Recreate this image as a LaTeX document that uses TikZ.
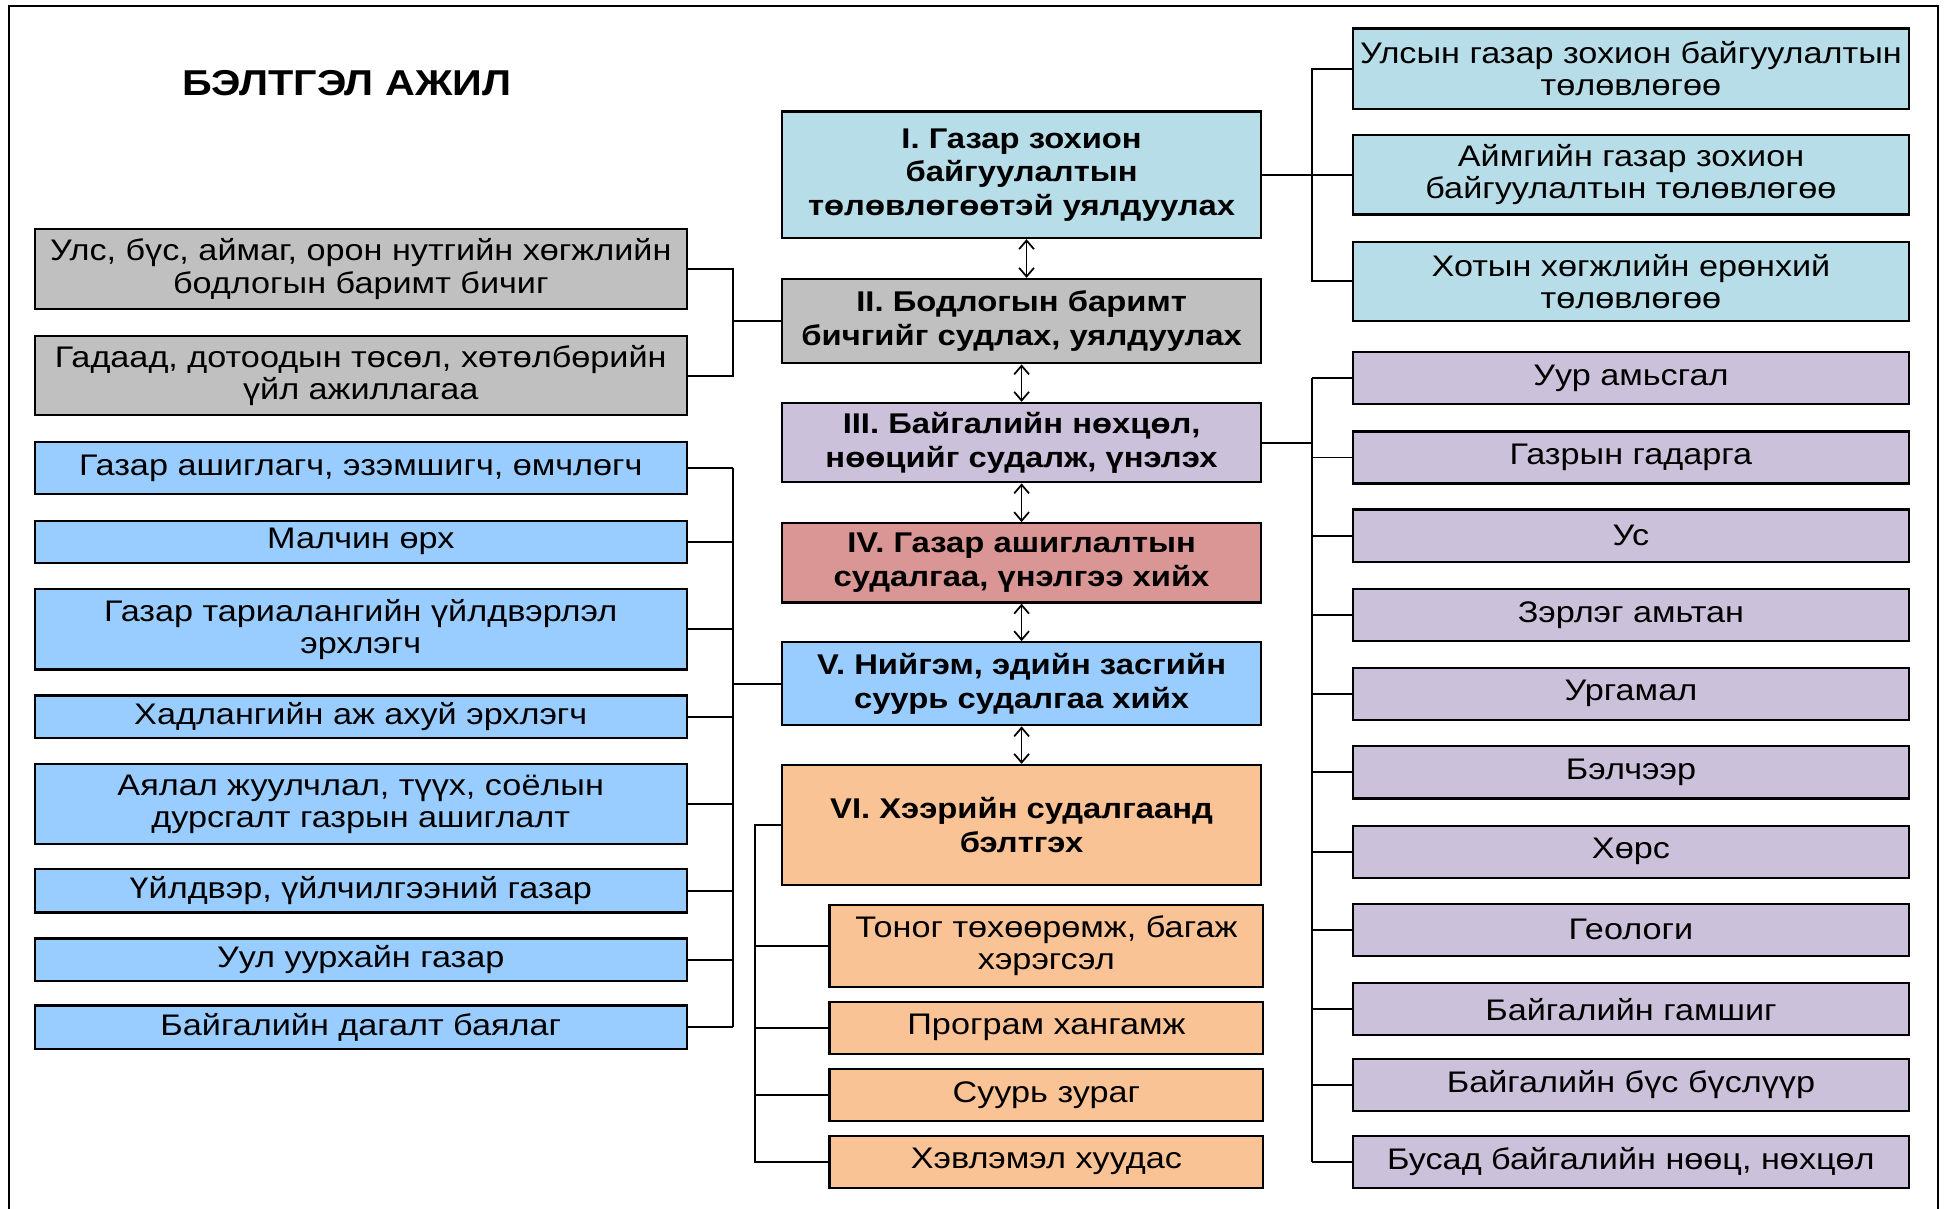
\documentclass[tikz,border=0pt]{standalone}
\usepackage{fontspec}
\setmainfont[FakeStretch=1.15]{Liberation Sans}
\usetikzlibrary{arrows.meta}
\definecolor{cLB}{HTML}{B7DEE8}
\definecolor{cGR}{HTML}{C0C0C0}
\definecolor{cLV}{HTML}{CCC1DA}
\definecolor{cRS}{HTML}{D99694}
\definecolor{cBL}{HTML}{99CCFF}
\definecolor{cPC}{HTML}{FAC396}
\tikzset{
  base/.style={draw=black, line width=1.8pt, inner sep=0pt, align=center,
    font=\fontsize{24}{26}\selectfont},
  sidebox/.style={base, minimum width=526pt},
  rbox/.style={base, minimum width=449pt},
  obox/.style={base, minimum width=350pt, fill=cPC},
  cbox/.style={base, minimum width=386pt, font=\fontsize{23}{27}\selectfont\bfseries},
  conn/.style={line width=1.6pt},
  dbl/.style={line width=1.4pt, {Straight Barb[length=7pt,width=12pt]}-{Straight Barb[length=7pt,width=12pt]}},
}
\begin{document}
\begin{tikzpicture}[x=1pt,y=-1pt]
\useasboundingbox (0,0) rectangle (1568,975);
% frame
\draw[line width=1.6pt] (7,975) -- (7,5) -- (1563,5) -- (1563,975);
\node[font=\fontsize{29}{33}\selectfont\bfseries] (title) at (280,67) {БЭЛТГЭЛ АЖИЛ};

% center column
\node[cbox, fill=cLB, minimum height=102pt] (c1) at (824,141) {I. Газар зохион\\байгуулалтын\\төлөвлөгөөтэй уялдуулах};
\node[cbox, fill=cGR, minimum height=68pt] (c2) at (824,259) {II. Бодлогын баримт\\бичгийг судлах, уялдуулах};
\node[cbox, fill=cLV, minimum height=64pt] (c3) at (824,357) {III. Байгалийн нөхцөл,\\нөөцийг судалж, үнэлэх};
\node[cbox, fill=cRS, minimum height=64pt] (c4) at (824,454) {IV. Газар ашиглалтын\\судалгаа, үнэлгээ хийх};
\node[cbox, fill=cBL, minimum height=67pt] (c5) at (824,551.5) {V. Нийгэм, эдийн засгийн\\суурь судалгаа хийх};
\node[cbox, fill=cPC, minimum height=97pt] (c6) at (824,665.5) {VI. Хээрийн судалгаанд\\бэлтгэх};

\draw[dbl] ([xshift=4pt]c1.south) -- ([xshift=4pt]c2.north);
\draw[dbl] (c2.south) -- (c3.north);
\draw[dbl] (c3.south) -- (c4.north);
\draw[dbl] (c4.south) -- (c5.north);
\draw[dbl] (c5.south) -- (c6.north);

% right top group
\node[rbox, fill=cLB, minimum height=65pt] (r1) at (1315.5,55.5) {Улсын газар зохион байгуулалтын\\төлөвлөгөө};
\node[rbox, fill=cLB, minimum height=64pt] (r2) at (1315.5,141) {Аймгийн газар зохион\\байгуулалтын төлөвлөгөө};
\node[rbox, fill=cLB, minimum height=64pt] (r3) at (1315.5,227) {Хотын хөгжлийн ерөнхий\\төлөвлөгөө};
\coordinate (tR) at (1058,0);
\draw[conn] (c1.east) -- (c1.east -| tR);
\draw[conn] (r1.west) -- (r1.west -| tR) -- (r3.west -| tR) -- (r3.west);
\draw[conn] (r2.west) -- (r2.west -| tR);

% right purple group
\foreach \n/\y/\t in {p1/305/Уур амьсгал, p2/369/Газрын гадарга, p3/432/Ус, p4/496/Зэрлэг амьтан, p5/559.5/Ургамал, p6/623/Бэлчээр, p7/687/Хөрс, p8/750/Геологи, p9/814/Байгалийн гамшиг, p10/875/Байгалийн бүс бүслүүр, p11/937/{Бусад байгалийн нөөц, нөхцөл}}{
  \node[rbox, fill=cLV, minimum height=42pt] (\n) at (1315.5,\y) {\t};
  \draw[conn] (\n.west) -- (\n.west -| tR);
}
\draw[conn] (c3.east) -- (c3.east -| tR);
\draw[conn] (p1.west -| tR) -- (p11.west -| tR);

% left grey group
\node[sidebox, fill=cGR, minimum height=64pt] (g1) at (291,217) {Улс, бүс, аймаг, орон нутгийн хөгжлийн\\бодлогын баримт бичиг};
\node[sidebox, fill=cGR, minimum height=64pt] (g2) at (291,303) {Гадаад, дотоодын төсөл, хөтөлбөрийн\\үйл ажиллагаа};
\coordinate (tL) at (591,0);
\draw[conn] (g1.east) -- (g1.east -| tL) -- (g2.east -| tL) -- (g2.east);
\draw[conn] (c2.west -| tL) -- (c2.west);

% left blue group
\node[sidebox, fill=cBL, minimum height=42pt] (b1) at (291,377.5) {Газар ашиглагч, эзэмшигч, өмчлөгч};
\node[sidebox, fill=cBL, minimum height=34pt] (b2) at (291,437) {Малчин өрх};
\node[sidebox, fill=cBL, minimum height=65pt] (b3) at (291,507.5) {Газар тариалангийн үйлдвэрлэл\\эрхлэгч};
\node[sidebox, fill=cBL, minimum height=34pt] (b4) at (291,578) {Хадлангийн аж ахуй эрхлэгч};
\node[sidebox, fill=cBL, minimum height=65pt] (b5) at (291,648.5) {Аялал жуулчлал, түүх, соёлын\\дурсгалт газрын ашиглалт};
\node[sidebox, fill=cBL, minimum height=35pt] (b6) at (291,718.5) {Үйлдвэр, үйлчилгээний газар};
\node[sidebox, fill=cBL, minimum height=34pt] (b7) at (291,774) {Уул уурхайн газар};
\node[sidebox, fill=cBL, minimum height=35pt] (b8) at (291,828.5) {Байгалийн дагалт баялаг};
\foreach \n in {b1,b2,b3,b4,b5,b6,b7,b8}{
  \draw[conn] (\n.east) -- (\n.east -| tL);
}
\draw[conn] (b1.east -| tL) -- (b8.east -| tL);
\draw[conn] (c5.west -| tL) -- (c5.west);

% peach group
\node[obox, minimum height=66pt] (o1) at (844,763) {Тоног төхөөрөмж, багаж\\хэрэгсэл};
\node[obox, minimum height=42pt] (o2) at (844,829) {Програм хангамж};
\node[obox, minimum height=42pt] (o3) at (844,883) {Суурь зураг};
\node[obox, minimum height=42pt] (o4) at (844,937) {Хэвлэмэл хуудас};
\coordinate (tO) at (609,0);
\draw[conn] (c6.west) -- (c6.west -| tO) -- (o4.west -| tO) -- (o4.west);
\foreach \n in {o1,o2,o3}{
  \draw[conn] (\n.west -| tO) -- (\n.west);
}
\end{tikzpicture}
\end{document}
